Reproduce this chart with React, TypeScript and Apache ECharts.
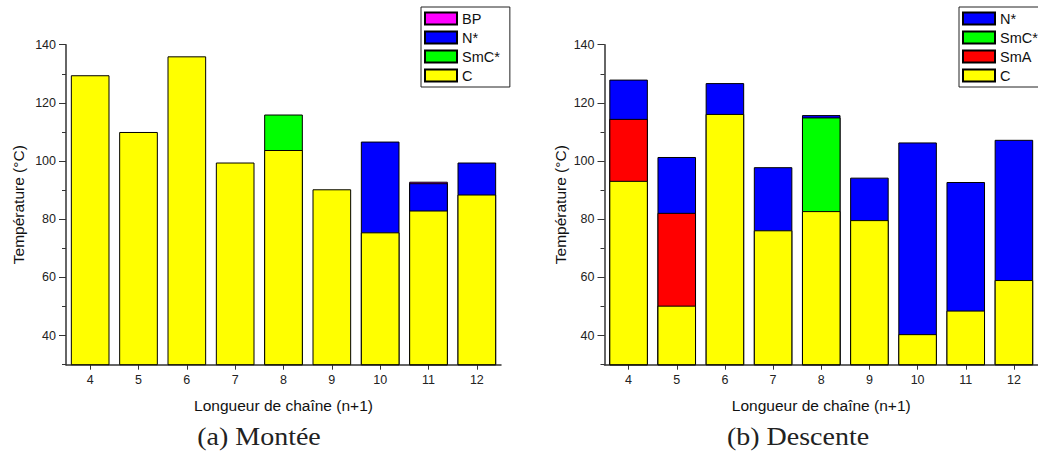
import React, { useEffect, useRef } from "react";
import * as echarts from "echarts";

const categories = ["4", "5", "6", "7", "8", "9", "10", "11", "12"];

// (a) Montée — top temperature of each phase (bars overlap, drawn from the axis floor)
const upC = [129.5, 110, 136, 99.5, 103.8, 90.3, 75.5, 83, 88.5];
const upSmC = [null, null, null, null, 116, null, null, null, null];
const upN = [null, null, null, null, null, null, 106.7, 92.4, 99.5];
const upBP = [null, null, null, null, null, null, null, 92.9, null];

// (b) Descente
const downC = [93.2, 50.3, 116.2, 76.2, 82.8, 79.7, 40.5, 48.6, 59.1];
const downSmA = [114.5, 82.2, null, null, null, null, null, null, null];
const downSmC = [null, null, null, null, 115, null, null, null, null];
const downN = [128, 101.4, 126.8, 97.9, 115.8, 94.3, 106.4, 92.8, 107.3];

const legendLeft = ["BP", "N*", "SmC*", "C"];
const legendRight = ["N*", "SmC*", "SmA", "C"];

const colors: Record<string, string> = {
  BP: "#ff00ff",
  "N*": "#0000ff",
  "SmC*": "#00ff00",
  SmA: "#ff0000",
  C: "#ffff00",
};

const FONT = "Liberation Sans, Arial, sans-serif";

export default function App() {
  const ref = useRef<HTMLDivElement>(null);
  useEffect(() => {
    if (!ref.current) return;
    const chart = echarts.init(ref.current, undefined, { renderer: "svg" });

    const top = 44.7;
    const h = 320;
    const h2 = 290.9;
    const grids = [
      { left: 66, top, width: 435, height: h },
      { left: 66, top, width: 435, height: h2 },
      { left: 604.5, top, width: 434.5, height: h },
      { left: 604.5, top, width: 434.5, height: h2 },
    ];

    const axisLine = { show: true, lineStyle: { color: "#333", width: 1.5 } };

    const xAxes = [0, 1, 2, 3].map((i) => {
      const main = i % 2 === 0;
      return {
        type: "category",
        gridIndex: i,
        data: categories,
        show: main,
        axisLine,
        axisTick: { show: true, alignWithLabel: true, length: 5, lineStyle: { color: "#333" } },
        axisLabel: { color: "#222", fontSize: 12.5, fontFamily: FONT, margin: 9 },
        name: "Longueur de chaîne (n+1)",
        nameLocation: "middle",
        nameGap: 33,
        nameTextStyle: { color: "#111", fontSize: 15.5, fontFamily: FONT },
      };
    });

    const yAxes = [0, 1, 2, 3].map((i) => {
      const main = i % 2 === 0;
      if (main) {
        return {
          type: "value",
          gridIndex: i,
          min: 30,
          max: 140,
          interval: 10,
          axisLine,
          axisTick: { show: true, length: 4, lineStyle: { color: "#333" } },
          splitLine: { show: false },
          axisLabel: {
            color: "#222",
            fontSize: 12.5,
            fontFamily: FONT,
            margin: 10,
            formatter: (v: number) => (v % 20 === 0 ? String(v) : ""),
          },
          name: "Température (°C)",
          nameLocation: "middle",
          nameGap: i === 0 ? 40 : 36.5,
          nameTextStyle: { color: "#111", fontSize: 15.5, fontFamily: FONT },
        };
      }
      return {
        type: "value",
        gridIndex: i,
        min: 40,
        max: 140,
        interval: 20,
        axisLine: { show: false },
        axisTick: { show: true, length: 7, lineStyle: { color: "#333" } },
        splitLine: { show: false },
        axisLabel: { show: false },
      };
    });

    const mk = (name: string, data: (number | null)[], gi: number) => ({
      type: "bar",
      name,
      xAxisIndex: gi,
      yAxisIndex: gi,
      data,
      barWidth: "80%",
      barGap: "-100%",
      itemStyle: { color: colors[name], borderColor: "#000", borderWidth: 1 },
    });

    const series = [
      mk("BP", upBP, 0),
      mk("N*", upN, 0),
      mk("SmC*", upSmC, 0),
      mk("C", upC, 0),
      mk("N*", downN, 2),
      mk("SmC*", downSmC, 2),
      mk("SmA", downSmA, 2),
      mk("C", downC, 2),
    ];

    const legendCommon = {
      orient: "vertical",
      top: 7,
      itemWidth: 32,
      itemHeight: 12,
      itemGap: 4,
      icon: "rect",
      borderColor: "#222",
      borderWidth: 1,
      selectedMode: false,
      textStyle: { color: "#111", fontSize: 14.5, fontFamily: FONT },
    };

    const caption = (text: string, x: number) => ({
      type: "text",
      x,
      y: 437,
      scaleX: 1.12,
      style: {
        text,
        fill: "#222",
        font: "25px 'Liberation Serif', serif",
        align: "center",
        verticalAlign: "middle",
      },
    });

    chart.setOption({
      animation: false,
      backgroundColor: "#fff",
      grid: grids,
      xAxis: xAxes,
      yAxis: yAxes,
      legend: [
        { ...legendCommon, left: 421, data: legendLeft, padding: [4, 10, 4, 3] },
        { ...legendCommon, left: 959, data: legendRight, padding: [4, 10, 4, 3] },
      ],
      series,
      graphic: [caption("(a) Montée", 259), caption("(b) Descente", 798)],
    });
    return () => chart.dispose();
  }, []);
  return (
    <div
      ref={ref}
      style={{ position: "fixed", left: 0, top: 0, width: 1038, height: 457 }}
    />
  );
}
